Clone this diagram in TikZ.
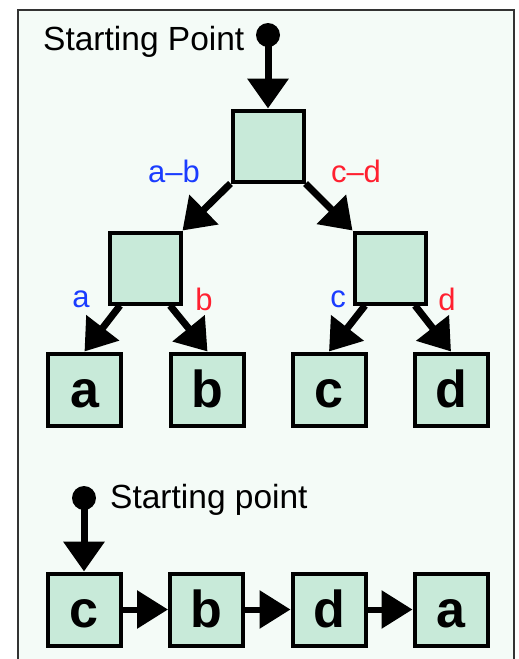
\documentclass[tikz,border=0pt]{standalone}
\usepackage{fontspec}
\setmainfont{Liberation Sans}
\usetikzlibrary{arrows.meta}
\definecolor{bggreen}{HTML}{F4FBF7}
\definecolor{boxgreen}{HTML}{C8EAD9}
\definecolor{framegray}{HTML}{333333}
\definecolor{lblblue}{HTML}{1A3CFF}
\definecolor{lblred}{HTML}{FF2030}
\tikzset{
  sbox/.style={draw=black, line width=4pt, fill=boxgreen, minimum size=71pt, inner sep=0pt},
  leaf/.style={draw=black, line width=4pt, fill=boxgreen, minimum width=73pt, minimum height=72pt, inner sep=0pt, text height=35pt, text depth=0pt, font=\fontsize{52}{52}\selectfont\bfseries},
  arr/.style={line width=7pt, -{Triangle[length=30pt,width=40pt]}},
  harr/.style={line width=6pt, -{Triangle[length=31pt,width=37pt]}},
  startdot/.style={circle, fill=black, minimum size=24pt, inner sep=0pt},
  lbl/.style={font=\fontsize{31}{31}\selectfont, inner sep=0pt},
  stxt/.style={font=\fontsize{33.5}{33.5}\selectfont, inner sep=0pt, anchor=base west}
}
\begin{document}
\begin{tikzpicture}[x=1pt,y=-1pt]
\useasboundingbox (0,0) rectangle (519,659);
\fill[white] (0,0) rectangle (519,659);
\draw[framegray, line width=2pt, fill=bggreen] (18,10) rectangle (514,680);

% tree
\node[stxt] (st1) at (43,50) {Starting Point};
\node[startdot] (dot1) at (268,35) {};
\node[sbox] (root) at (268,146) {};
\node[sbox] (ML) at (145,268) {};
\node[sbox] (MR) at (390,268) {};
\node[leaf] (la) at (84.5,389.5) {a};
\node[leaf] (lb) at (207.5,389.5) {b};
\node[leaf] (lc) at (329,389.5) {c};
\node[leaf] (ld) at (451,389.5) {d};

\draw[arr] (dot1.center) -- (root.north);
\draw[arr] (root.south west) -- (ML.north east);
\draw[arr] (root.south east) -- (MR.north west);
\draw[arr] ([xshift=-25pt]ML.south) -- (la.north);
\draw[arr] ([xshift=25pt]ML.south) -- (lb.north);
\draw[arr] ([xshift=-25pt]MR.south) -- (lc.north);
\draw[arr] ([xshift=25pt]MR.south) -- (ld.north);

\node[lbl, text=lblblue] (lab) at (174,171) {a–b};
\node[lbl, text=lblred] (lcd) at (356,171) {c–d};
\node[lbl, text=lblblue] (lba) at (81,299) {a};
\node[lbl, text=lblred] (lbb) at (204,299) {b};
\node[lbl, text=lblblue] (lbc) at (338,299) {c};
\node[lbl, text=lblred] (lbd) at (447,299) {d};

% list
\node[stxt] (st2) at (110,508) {Starting point};
\node[startdot] (dot2) at (84,498) {};
\node[leaf] (bc) at (84,609.5) {c};
\node[leaf] (bb) at (206.5,609.5) {b};
\node[leaf] (bd) at (329,609.5) {d};
\node[leaf] (ba) at (451,609.5) {a};
\draw[arr] (dot2.center) -- (bc.north);
\draw[harr] (bc.east) -- (bb.west);
\draw[harr] (bb.east) -- (bd.west);
\draw[harr] (bd.east) -- (ba.west);
\end{tikzpicture}
\end{document}
